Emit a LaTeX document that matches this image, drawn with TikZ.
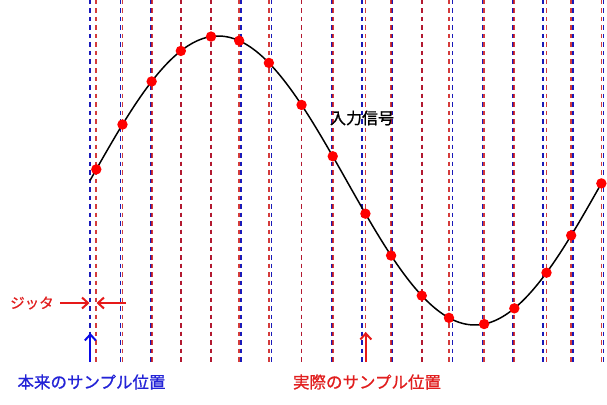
\documentclass[tikz,border=0pt]{standalone}
\usepackage{fontspec}
\newfontfamily\jp{Noto Sans CJK JP}[FakeBold=0.8]
\usetikzlibrary{arrows.meta}
\definecolor{lblue}{RGB}{25,25,185}
\definecolor{lred}{RGB}{205,25,25}
\definecolor{dotred}{RGB}{255,0,0}
\definecolor{txtblue}{RGB}{35,35,215}
\definecolor{txtred}{RGB}{225,30,30}
\definecolor{arblue}{RGB}{10,10,230}
\definecolor{arred}{RGB}{230,25,25}
\tikzset{
  bline/.style={lblue, line width=1.7pt, dash pattern=on 4.5pt off 4pt},
  rline/.style={lred, line width=1.7pt, dash pattern=on 4.5pt off 4pt, opacity=0.85},
  sig/.style={black, line width=1.5pt},
  sdot/.style={fill=dotred, draw=none},
  lbl/.style={font=\jp\fontsize{16.5}{18}\selectfont, inner sep=0pt},
  jarrow/.style={line width=2.2pt, -{Straight Barb[length=6pt,width=11pt,line width=2pt]}}
}
\begin{document}
\begin{tikzpicture}[x=1pt,y=-1pt]
\useasboundingbox (0,0) rectangle (607,404);
\fill[white] (0,0) rectangle (607,404);
\foreach \k/\o in {0/6,1/2,2/1,3/0,4/0,5/-2,6/-2.5,7/0,8/1,9/3.5,10/-1,11/-0.5,12/-3.5,13/1.5,14/1.5,15/3.5,16/-2,17/-2}{
  \pgfmathsetmacro\xb{90.3+30.18*\k}
  \pgfmathsetmacro\xr{\xb+\o}
  \draw[bline] (\xb,0) -- (\xb,362);
  \draw[rline] (\xr,0) -- (\xr,362);
}
\draw[sig] plot[domain=90:603, samples=200, smooth] (\x, {180.5-144.5*sin(0.701754*(\x-90))});
\foreach \k/\o in {0/6,1/2,2/1,3/0,4/0,5/-2,6/-2.5,7/0,8/1,9/3.5,10/-1,11/-0.5,12/-3.5,13/1.5,14/1.5,15/3.5,16/-2,17/-2}{
  \pgfmathsetmacro\xr{90.3+30.18*\k+\o}
  \pgfmathsetmacro\yr{180.5-144.5*sin(0.701754*(\xr-90))}
  \fill[sdot] (\xr,\yr) circle (5.2);
}
\node[lbl, font=\jp\fontsize{16}{18}\selectfont] (sig) at (362,118) {入力信号};
\node[lbl, text=txtred, font=\jp\fontsize{14.5}{16}\selectfont] (jit) at (32,303) {ジッタ};
\node[lbl, text=txtblue] (orig) at (91.5,382) {本来のサンプル位置};
\node[lbl, text=txtred] (act) at (367,382) {実際のサンプル位置};
\coordinate (ja) at (60,303);
\coordinate (jb) at (89.5,303);
\coordinate (jc) at (126,303);
\coordinate (jd) at (96.5,303);
\coordinate (ba) at (90.3,362);
\coordinate (bb) at (90.3,333);
\coordinate (ra) at (365.8,362);
\coordinate (rb) at (365.8,332);
\draw[jarrow, arred] (ja) -- (jb);
\draw[jarrow, arred] (jc) -- (jd);
\draw[jarrow, arblue] (ba) -- (bb);
\draw[jarrow, arred] (ra) -- (rb);
\end{tikzpicture}
\end{document}
